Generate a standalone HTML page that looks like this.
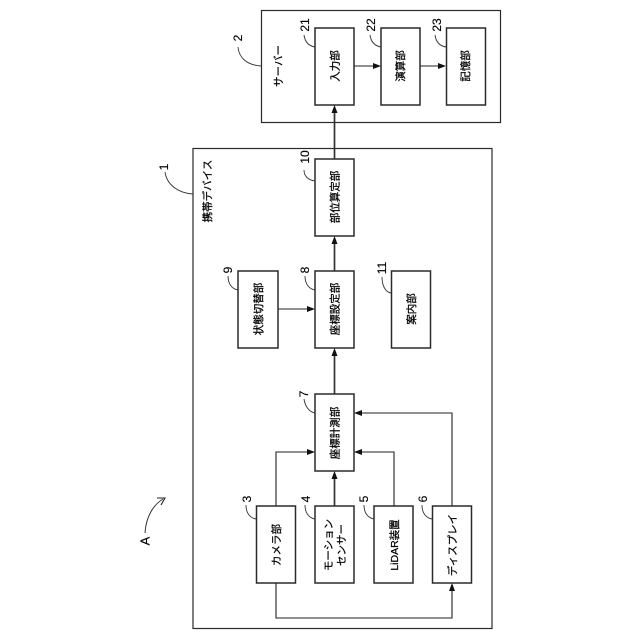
<!DOCTYPE html>
<html><head><meta charset="utf-8">
<style>
html,body{margin:0;padding:0;background:#fff}
svg{display:block}
text{font-family:"Liberation Sans","Noto Sans CJK JP",sans-serif;fill:#000;text-anchor:middle;dominant-baseline:central}
.t{font-size:10.5px}
.t text{stroke:#000;stroke-width:.25}
.n{font-size:12px}
.n text{stroke:#000;stroke-width:.15}
rect{fill:#fff;stroke:#2a2a2a;stroke-width:1.5}
rect.o{stroke-width:1.2}
.l{fill:none;stroke:#222;stroke-width:1.1}
.h{fill:none;stroke:#333;stroke-width:1.7}
.c{fill:none;stroke:#333;stroke-width:.9}
.a{fill:#111;stroke:none}
</style></head><body>
<svg width="640" height="640" viewBox="0 0 640 640" xmlns="http://www.w3.org/2000/svg">
<rect class="o" x="261.500" y="10.500" width="239" height="112"/>
<rect class="o" x="193" y="148.500" width="299" height="480"/>
<rect x="315" y="28" width="39" height="77"/>
<rect x="381" y="28" width="39" height="77"/>
<rect x="446.500" y="28" width="39" height="77"/>
<rect x="315" y="159" width="39" height="77"/>
<rect x="315" y="271" width="39" height="77"/>
<rect x="238" y="271" width="40" height="77"/>
<rect x="391.500" y="271" width="39" height="77"/>
<rect x="315" y="394" width="39" height="77"/>
<rect x="256.500" y="506" width="39" height="77"/>
<rect x="315" y="506" width="39" height="77"/>
<rect x="374" y="506" width="39" height="77"/>
<rect x="432.500" y="506" width="39" height="77"/>

<path class="l" d="M354 66H375M420 66H441M278 309H310M276 506V452H310M394 506V452H359M452 506V413H359M276 583V618H452V588"/>
<path class="h" d="M334.500 159V110M334.500 271V241M334.500 394V353M334.500 506V476"/>
<path class="a" d="M381 66l-8-3v6zM446 66l-8-3v6zM315 309l-8-3v6zM315 452l-8-3v6zM354 452l8-3v6zM354 413l8-3v6zM334.500 105l-3 8h6zM334.500 236l-3 8h6zM334.500 348l-3 8h6zM334.500 471l-3 8h6zM452 583l-3 8h6z"/>

<path class="c" d="M261 66C247 65 239 58 238 47M193 194C178 193 167 185 165 172M315 47C309 46 305 42 304 35M381 47C375 46 371 42 370 35M446 47C440 46 436 42 435 35M315 181C308 180 304 176 304 170M315 290C309 289 305 284 305 276M238 290C232 289 228 284 228 276M391 293C385 292 382 285 382 277M315 413C309 412 305 406 304 399M256 519C250 518 246 513 246 505M315 519C309 518 305 513 305 505M374 519C368 518 364 513 364 505M432 519C426 518 422 513 422 505"/>
<path class="c" style="stroke-width:1" d="M145 533C146 517 153 505 163 499"/>
<path class="l" d="M157 498L165 498L161 505"/>

<g class="t">
<text transform="translate(279,66) rotate(-90)">サーバー</text>
<text transform="translate(335.500,66) rotate(-90)">入力部</text>
<text transform="translate(401,66) rotate(-90)">演算部</text>
<text transform="translate(466,66) rotate(-90)">記憶部</text>
<text transform="translate(208,191) rotate(-90)">携帯デバイス</text>
<text transform="translate(335.500,197) rotate(-90)">部位算定部</text>
<text transform="translate(335.500,309) rotate(-90)">座標設定部</text>
<text transform="translate(259,309) rotate(-90)">状態切替部</text>
<text transform="translate(412,309) rotate(-90)">案内部</text>
<text transform="translate(335.500,433) rotate(-90)">座標計測部</text>
<text transform="translate(277,545) rotate(-90)">カメラ部</text>
<text transform="translate(329,545) rotate(-90)">モーション</text>
<text transform="translate(342,545) rotate(-90)">センサー</text>
<text transform="translate(395,545) rotate(-90)">LiDAR装置</text>
<text transform="translate(453,545) rotate(-90)">ディスプレイ</text>
</g>
<g class="n">
<text transform="translate(238,38) rotate(-90)">2</text>
<text transform="translate(164,167) rotate(-90)">1</text>
<text transform="translate(305,25) rotate(-90)">21</text>
<text transform="translate(371,25) rotate(-90)">22</text>
<text transform="translate(437,25) rotate(-90)">23</text>
<text transform="translate(305,157) rotate(-90)">10</text>
<text transform="translate(305,270) rotate(-90)">8</text>
<text transform="translate(228,270) rotate(-90)">9</text>
<text transform="translate(382,268) rotate(-90)">11</text>
<text transform="translate(304,394) rotate(-90)">7</text>
<text transform="translate(247,499) rotate(-90)">3</text>
<text transform="translate(306,499) rotate(-90)">4</text>
<text transform="translate(364,499) rotate(-90)">5</text>
<text transform="translate(423,499) rotate(-90)">6</text>
<text style="font-size:13px" transform="translate(145,541) rotate(-90)">A</text>
</g>
</svg>
</body></html>
